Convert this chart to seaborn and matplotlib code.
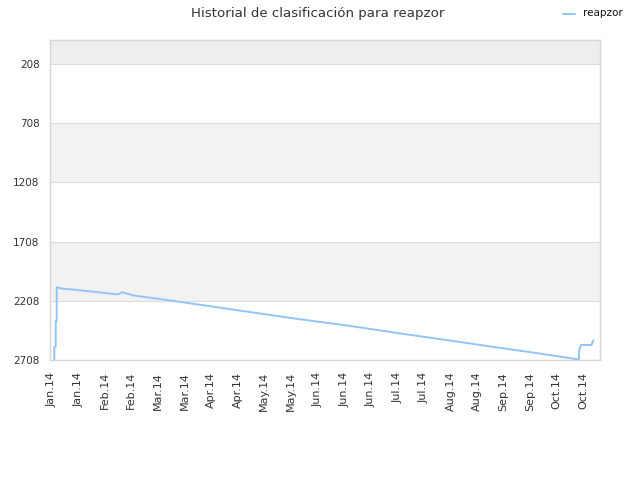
import matplotlib
matplotlib.use("Agg")
import matplotlib.pyplot as plt
import matplotlib.dates as mdates
import seaborn as sns
import pandas as pd

# ---- data ----
dates = [
    "2014-01-13 11:00", "2014-01-13 11:00", "2014-01-14 05:00", "2014-01-14 05:00",
    "2014-01-14 18:00", "2014-01-14 18:00", "2014-01-18 00:00", "2014-01-24 00:00",
    "2014-01-29 00:00", "2014-02-03 00:00", "2014-02-08 00:00", "2014-02-14 00:00",
    "2014-02-16 00:00", "2014-02-18 00:00", "2014-02-21 00:00", "2014-02-24 00:00",
    "2014-03-10 00:00", "2014-03-31 00:00", "2014-04-26 00:00", "2014-05-22 00:00",
    "2014-06-18 00:00", "2014-07-14 00:00", "2014-08-09 00:00", "2014-09-04 00:00",
    "2014-09-25 00:00", "2014-10-16 16:00", "2014-10-16 16:00", "2014-10-17 04:00",
    "2014-10-17 16:00", "2014-10-23 06:00", "2014-10-24 06:00",
]
ranks = [
    2708, 2596, 2596, 2380,
    2380, 2094, 2106, 2114,
    2123, 2131, 2140, 2151,
    2154, 2136, 2148, 2162,
    2193, 2241, 2302, 2362,
    2420, 2482, 2542, 2603,
    2651, 2704, 2638, 2607,
    2581, 2581, 2540,
]
player = "reapzor"
title = "Historial de clasificación para reapzor"
y_ticks = [208, 708, 1208, 1708, 2208, 2708]
y_top = 5
tick_start = "2014-01-12"
n_ticks = 21
x_min = "2014-01-11 05:00"
x_max = "2014-10-27 17:00"

df = pd.DataFrame({"fecha": pd.to_datetime(dates), "rank": ranks, "jugador": player})

sns.set_theme(style="white")
plt.rcParams["font.family"] = ["DejaVu Sans"]

fig = plt.figure(figsize=(6.4, 4.8), dpi=100)
ax = fig.add_axes([50 / 640, 1 - 360 / 480, 550 / 640, 320 / 480])

# alternating horizontal bands
bands = [(y_top, 208, "#eeeeee"), (708, 1208, "#f2f2f2"), (1708, 2208, "#f2f2f2")]
for lo, hi, c in bands:
    ax.axhspan(lo, hi, color=c, zorder=0, lw=0)

for yv in y_ticks:
    ax.axhline(yv, color="#dcdcdc", lw=0.8, zorder=1)

line_color = "#92c5f5"
sns.lineplot(data=df, x="fecha", y="rank", estimator=None, sort=False,
             color=line_color, lw=1.4, ax=ax, legend=False, zorder=3)

ax.set_ylim(2708, y_top)
ax.set_xlim(pd.Timestamp(x_min), pd.Timestamp(x_max))
ax.set_yticks(y_ticks)
ax.set_yticklabels([str(v) for v in y_ticks])

xt = pd.date_range(tick_start, periods=n_ticks, freq="14D")
ax.set_xticks(xt)
ax.xaxis.set_major_formatter(mdates.DateFormatter("%b.%y"))
for lab in ax.get_xticklabels():
    lab.set_rotation(90)

ax.tick_params(axis="y", length=0, pad=7.5, labelsize=7.5, labelcolor="#333333")
ax.tick_params(axis="x", length=0, pad=8.5, labelsize=8, labelcolor="#333333")
ax.set_xlabel("")
ax.set_ylabel("")

for s in ax.spines.values():
    s.set_color("#d6d6d6")
    s.set_linewidth(1.0)

fig.text(318 / 640, 1 - 13 / 480, title, ha="center", va="center",
         fontsize=9.6, color="#333333")

# legend
fig.lines.append(plt.Line2D([563 / 640, 575 / 640], [1 - 14 / 480, 1 - 14 / 480],
                            transform=fig.transFigure, color=line_color, lw=1.4))
fig.text(583 / 640, 1 - 13 / 480, player, ha="left", va="center",
         fontsize=7.5, color="#111111")

fig.savefig("out.png", dpi=100)
